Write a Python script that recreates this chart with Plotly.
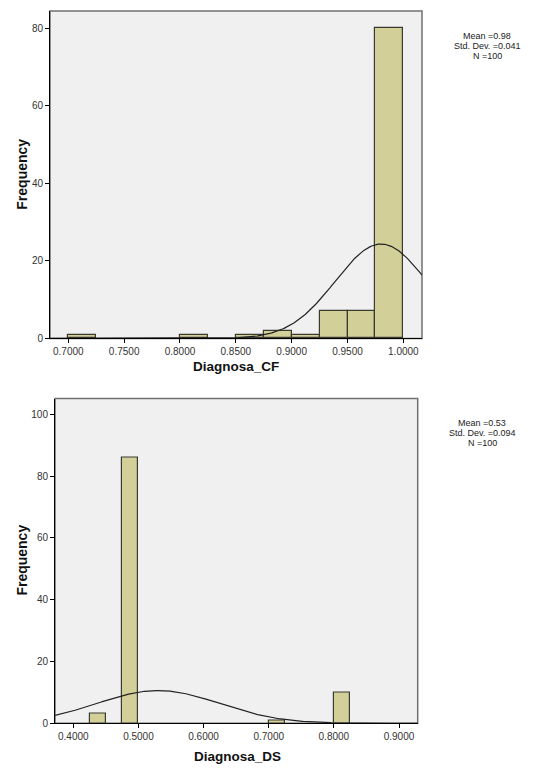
import numpy as np
import plotly.graph_objects as go

# ---------------- data ----------------
cf_bin_left = [0.700, 0.800, 0.850, 0.875, 0.900, 0.925, 0.950, 0.975]
cf_counts = [1, 1, 1, 2, 1, 7, 7, 80]
cf_mean, cf_sd, cf_n = 0.98, 0.041, 100

ds_bin_left = [0.425, 0.475, 0.700, 0.800]
ds_counts = [3, 86, 1, 10]
ds_mean, ds_sd, ds_n = 0.53, 0.094, 100

bin_width = 0.025

cf_xticks = [0.70, 0.75, 0.80, 0.85, 0.90, 0.95, 1.00]
ds_xticks = [0.4, 0.5, 0.6, 0.7, 0.8, 0.9]
cf_yticks = [0, 20, 40, 60, 80]
ds_yticks = [0, 20, 40, 60, 80, 100]

# page body has an 8px margin; figure is sized to fill the rest of the window
OFF = 8
W, H = 548 - OFF, 770 - OFF
BAR = "#D3CF98"
BG = "#F0F0F0"
FONT = "Liberation Sans, Arial, sans-serif"


def px(x):
    return (x - OFF) / W


def py(y):
    return 1 - (y - OFF) / H


def normal_curve(mean, sd, n, lo, hi):
    xs = np.linspace(lo, hi, 400)
    ys = n * bin_width / (sd * np.sqrt(2 * np.pi)) * np.exp(-0.5 * ((xs - mean) / sd) ** 2)
    return xs, ys


fig = go.Figure()
bar_line = dict(color="#3a3a30", width=1.2)

# top histogram
cf_x = [b + bin_width / 2 for b in cf_bin_left]
fig.add_trace(go.Bar(x=cf_x, y=cf_counts, width=bin_width, marker=dict(color=BAR, line=bar_line),
                     xaxis="x", yaxis="y", showlegend=False))
cx, cy = normal_curve(cf_mean, cf_sd, cf_n, 0.6836, 1.0167)
fig.add_trace(go.Scatter(x=cx, y=cy, mode="lines", line=dict(color="#222", width=1.2),
                         xaxis="x", yaxis="y", showlegend=False))

# bottom histogram
ds_x = [b + bin_width / 2 for b in ds_bin_left]
fig.add_trace(go.Bar(x=ds_x, y=ds_counts, width=bin_width, marker=dict(color=BAR, line=bar_line),
                     xaxis="x2", yaxis="y2", showlegend=False))
dx, dy = normal_curve(ds_mean, ds_sd, ds_n, 0.3719, 0.9287)
fig.add_trace(go.Scatter(x=dx, y=dy, mode="lines", line=dict(color="#222", width=1.2),
                         xaxis="x2", yaxis="y2", showlegend=False))

tickfont = dict(family=FONT, size=10, color="#333")
axis_common = dict(showgrid=False, zeroline=False, showline=True, linecolor="#000", linewidth=1,
                   ticks="outside", ticklen=4, tickcolor="#000", tickfont=tickfont, fixedrange=True)

fig.update_layout(
    width=W, height=H,
    margin=dict(l=0, r=0, t=0, b=0),
    paper_bgcolor="white", plot_bgcolor=BG,
    bargap=0,
    xaxis=dict(domain=[px(50), px(422)], range=[0.6836, 1.0167], tickvals=cf_xticks,
               ticktext=[f"{v:.4f}" for v in cf_xticks], anchor="y", **axis_common),
    yaxis=dict(domain=[py(341), py(11)], range=[0, 84.4], tickvals=cf_yticks, anchor="x", **axis_common),
    xaxis2=dict(domain=[px(55), px(417.7)], range=[0.3719, 0.9287], tickvals=ds_xticks,
                ticktext=[f"{v:.4f}" for v in ds_xticks], anchor="y2", **axis_common),
    yaxis2=dict(domain=[py(729), py(401.7)], range=[0, 105.1], tickvals=ds_yticks, anchor="x2", **axis_common),
)

# gray frame on top/right
for xr, yr in [("x", "y"), ("x2", "y2")]:
    fig.add_shape(type="rect", xref=f"{xr} domain", yref=f"{yr} domain", x0=0, x1=1, y0=0, y1=1,
                  line=dict(color="#707070", width=1.5), layer="below")

ann = []
# axis titles
ann.append(dict(text="<b>Frequency</b>", x=px(22), y=py(176), textangle=-90,
                font=dict(family=FONT, size=14, color="#111")))
ann.append(dict(text="<b>Frequency</b>", x=px(22), y=py(565), textangle=-90,
                font=dict(family=FONT, size=14, color="#111")))
ann.append(dict(text="<b>Diagnosa_CF</b>", x=px(236), y=py(369), font=dict(family=FONT, size=13.5, color="#111")))
ann.append(dict(text="<b>Diagnosa_DS</b>", x=px(237), y=py(762), font=dict(family=FONT, size=13.5, color="#111")))

stat_font = dict(family=FONT, size=9, color="#222")
for cxp, ys, lines in [
    (487, [36.5, 46.5, 56.5], [f"Mean ={cf_mean:.2f}", f"Std. Dev. ={cf_sd:.3f}", f"N ={cf_n}"]),
    (482, [426.5, 436.5, 446.5], [f"Mean ={ds_mean:.2f}", f"Std. Dev. ={ds_sd:.3f}", f"N ={ds_n}"]),
]:
    for yy, t in zip(ys, lines):
        ann.append(dict(text=t, x=px(cxp), y=py(yy), font=stat_font))

for a in ann:
    a.update(xref="paper", yref="paper", showarrow=False, xanchor="center", yanchor="middle")
    fig.add_annotation(**a)

fig.write_html("out.html")
